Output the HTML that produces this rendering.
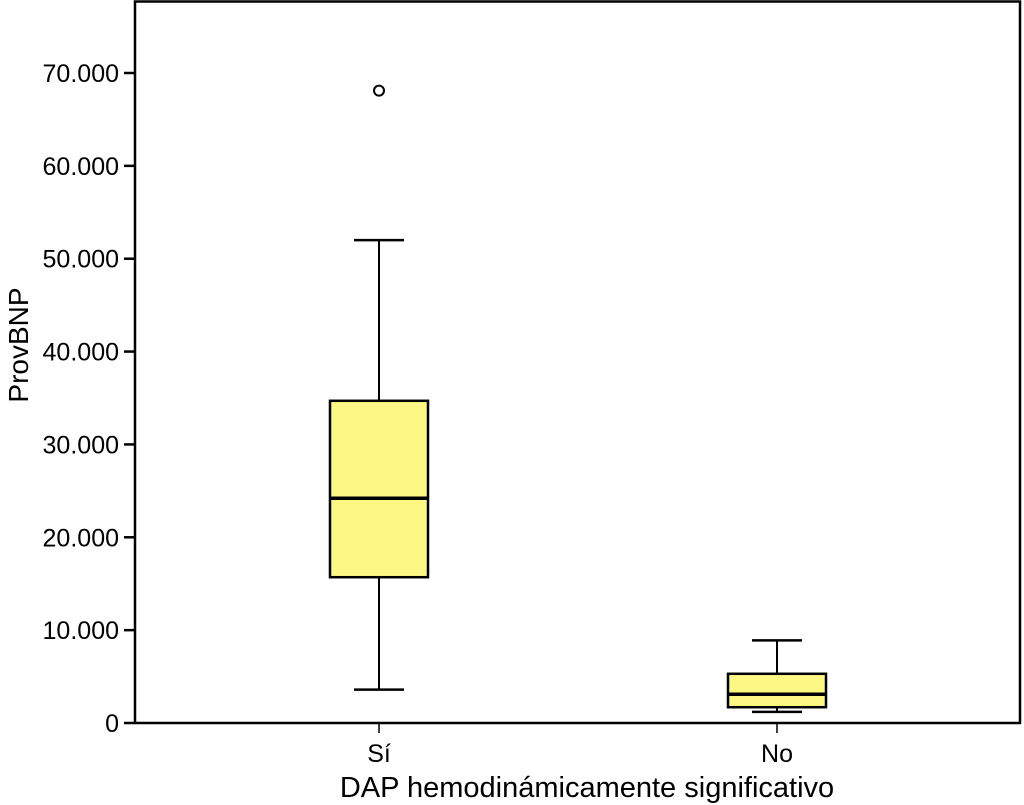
<!DOCTYPE html>
<html><head><meta charset="utf-8"><style>
html,body{margin:0;padding:0;background:#fff;}
svg{display:block;font-family:"Liberation Sans",Arial,sans-serif;}
</style></head><body>
<svg id="chart" width="1024" height="805" viewBox="0 0 1024 805">
<rect x="135" y="1.5" width="885" height="721.5" fill="none" stroke="#000" stroke-width="2.5"/>
<g id="yaxis"></g>
<g id="xaxis"></g>
<g id="boxes"></g>
<text x="28" y="345" transform="rotate(-90 28 345)" text-anchor="middle" font-size="28">ProvBNP</text>
<text x="587" y="797" text-anchor="middle" font-size="29">DAP hemodinámicamente significativo</text>
</svg>
<script>
const categories = ["Sí","No"];
const whiskerLow = [3600,1200];
const q1 = [15700,1700];
const median = [24200,3100];
const q3 = [34700,5300];
const whiskerHigh = [52000,8900];
const outliers = [[68100],[]];
const yTicks = [0,10000,20000,30000,40000,50000,60000,70000];
const yTickLabels = ["0","10.000","20.000","30.000","40.000","50.000","60.000","70.000"];

const NS="http://www.w3.org/2000/svg";
function y(v){return 723 - v*(650/70000);}
function x(i){return 379 + i*398;}
function mk(tag,attrs,parent){const e=document.createElementNS(NS,tag);for(const k in attrs)e.setAttribute(k,attrs[k]);parent.appendChild(e);return e;}
const ya=document.getElementById('yaxis'), xa=document.getElementById('xaxis'), bx=document.getElementById('boxes');
yTicks.forEach((t,i)=>{
  const l=mk('line',{x1:124,x2:135,y1:y(t),y2:y(t),stroke:'#000','stroke-width':2.5},ya);
  
  
  const tx=mk('text',{x:119,y:y(t)+9,'text-anchor':'end','font-size':25},ya);
  tx.textContent=yTickLabels[i];
  
  
});
categories.forEach((c,i)=>{
  const cx=x(i);
  const t=mk('line',{x1:cx,x2:cx,y1:723,y2:733,stroke:'#000','stroke-width':1.5},xa);
  
  
  const tx=mk('text',{x:cx,y:762,'text-anchor':'middle','font-size':25},xa);
  tx.textContent=c;
  
  
  const g=mk('g',{},bx);
  
  
  mk('line',{x1:cx,x2:cx,y1:y(whiskerHigh[i]),y2:y(q3[i]),stroke:'#000','stroke-width':2},g);
  mk('line',{x1:cx,x2:cx,y1:y(q1[i]),y2:y(whiskerLow[i]),stroke:'#000','stroke-width':2},g);
  mk('line',{x1:cx-25,x2:cx+25,y1:y(whiskerHigh[i]),y2:y(whiskerHigh[i]),stroke:'#000','stroke-width':2.5},g);
  mk('line',{x1:cx-25,x2:cx+25,y1:y(whiskerLow[i]),y2:y(whiskerLow[i]),stroke:'#000','stroke-width':2.5},g);
  mk('rect',{x:cx-49,y:y(q3[i]),width:98,height:y(q1[i])-y(q3[i]),fill:'#fdf883',stroke:'#000','stroke-width':2.5},g);
  mk('line',{x1:cx-49,x2:cx+49,y1:y(median[i]),y2:y(median[i]),stroke:'#000','stroke-width':3.5},g);
  outliers[i].forEach(o=>{
    const p=mk('circle',{cx:cx,cy:y(o),r:5,fill:'#fff',stroke:'#000','stroke-width':2},g);
    
    
  });
});
</script>
</body></html>
